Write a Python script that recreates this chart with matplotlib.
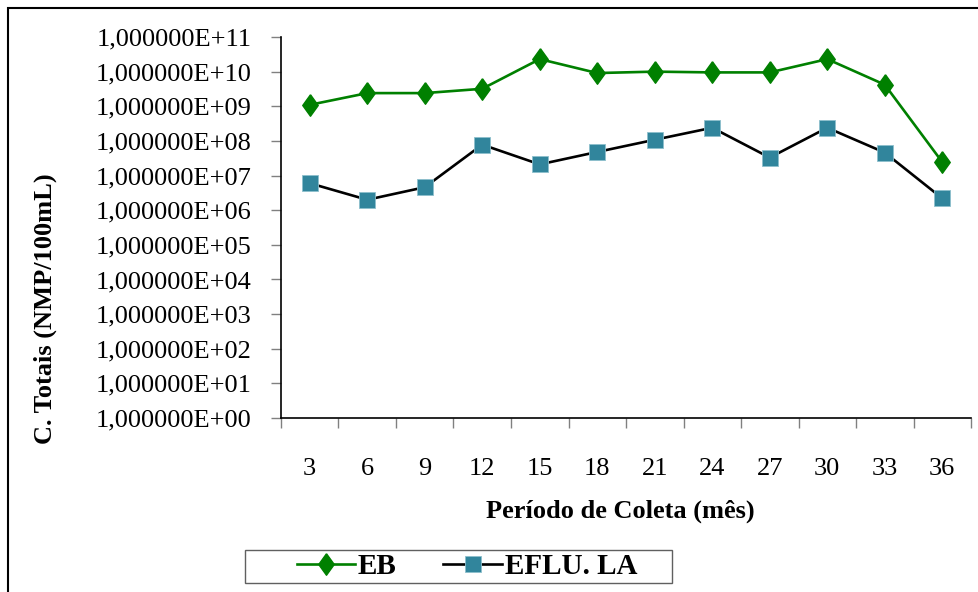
import numpy as np
import matplotlib.pyplot as plt
from matplotlib.patches import Rectangle
from matplotlib.ticker import FixedLocator, FixedFormatter

# Collection period (months) and total coliforms (NMP/100mL)
meses = [3, 6, 9, 12, 15, 18, 21, 24, 27, 30, 33, 36]
eb = [1.1e9, 2.4e9, 2.4e9, 3.2e9, 2.3e10, 9.1e9, 1.0e10, 9.5e9, 9.5e9, 2.3e10, 4.2e9, 2.45e7]
eflu_la = [6.0e6, 2.0e6, 4.6e6, 7.8e7, 2.1e7, 4.8e7, 1.08e8, 2.4e8, 3.3e7, 2.4e8, 4.6e7, 2.2e6]
decadas = list(range(0, 12))

plt.rcParams['font.family'] = ['Liberation Serif', 'DejaVu Serif']

fig = plt.figure(figsize=(9.79, 5.92), dpi=100)
ax = fig.add_axes([281 / 979, 1 - 418 / 592, 690 / 979, 381 / 592])

# outer chart frame
fig.patches.append(Rectangle((8 / 979, -0.05), 1.2, 1 - 8 / 592 + 0.05,
                             transform=fig.transFigure, fill=False,
                             edgecolor='black', linewidth=1.5))

x = np.arange(len(meses))
diamond = [(0, 1), (0.72, 0), (0, -1), (-0.72, 0), (0, 1)]

ax.plot(x, eb, color='#008000', linewidth=1.9, marker=diamond,
        markersize=15.5, markerfacecolor='#008000', markeredgecolor='#008000',
        label='EB')
ax.plot(x, eflu_la, color='black', linewidth=1.9, marker='s',
        markersize=11.5, markerfacecolor='#31859C', markeredgecolor='#8DBFCC',
        markeredgewidth=0.6, label='EFLU. LA')

ax.set_yscale('log')
ax.set_ylim(1, 1e11)
ax.set_xlim(-0.5, len(meses) - 0.5)

ax.yaxis.set_major_locator(FixedLocator([10.0 ** d for d in decadas]))
ax.yaxis.set_major_formatter(FixedFormatter(['1,000000E+%02d' % d for d in decadas]))
ax.yaxis.set_minor_locator(FixedLocator([]))

ax.set_xticks(x)
ax.set_xticklabels([str(m) for m in meses])
ax.set_xticks(np.arange(-0.5, len(meses)), minor=True)

ax.tick_params(axis='y', which='major', direction='out', length=7, width=1,
               color='#808080', pad=14, labelsize=19)
ax.tick_params(axis='x', which='major', length=0, pad=29, labelsize=19)
ax.tick_params(axis='x', which='minor', direction='out', length=7, width=1,
               color='#808080')

for s in ['top', 'right']:
    ax.spines[s].set_visible(False)
ax.spines['left'].set_linewidth(1.2)
ax.spines['bottom'].set_linewidth(1.2)

fig.text(45 / 979, 1 - 309 / 592, 'C. Totais (NMP/100mL)', rotation=90,
         ha='center', va='center', fontsize=19, fontweight='bold')
fig.text(620 / 979, 1 - 511 / 592, 'Período de Coleta (mês)',
         ha='center', va='center', fontsize=19, fontweight='bold')

# legend: entries without frame, box drawn separately
leg = fig.legend(loc='center', bbox_to_anchor=(467 / 979, 1 - 567 / 592),
                 ncol=2, frameon=False, handlelength=2.0, handletextpad=0.1,
                 columnspacing=1.6, borderpad=0.0,
                 prop={'weight': 'bold', 'size': 21})
fig.patches.append(Rectangle((245 / 979, 1 - 583 / 592), 427 / 979, 33 / 592,
                             transform=fig.transFigure, fill=False,
                             edgecolor='#606060', linewidth=1.0))

fig.savefig('out.png', dpi=100)
